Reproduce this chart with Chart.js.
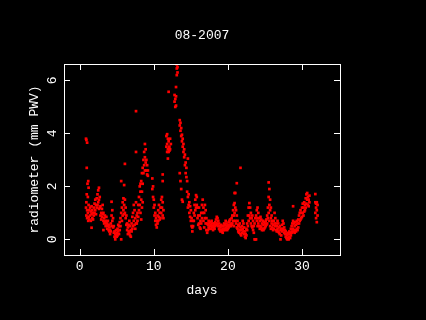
<!DOCTYPE html>
<html lang="en">
<head>
    <meta charset="UTF-8">
    <title>08-2007</title>
    <script src="https://cdn.jsdelivr.net/npm/chart.js"></script>
    <style>
        html, body { margin: 0; padding: 0; background: #000; }
        canvas { display: block; }
    </style>
</head>
<body>
    <canvas id="pwvChart" width="426" height="320"></canvas>

    <script>
        // [day, pwv] samples, one array per week
        const week1 = [
            [0.85,3.8],[0.85,1.2],[0.9,3.75],[0.9,0.9],[0.9,1.4],[0.95,2.7],[0.95,1.7],[1.0,3.65],[1.0,1.1],[1.0,0.8],
            [1.05,2.1],[1.1,1.0],[1.1,1.6],[1.15,2.2],[1.15,0.7],[1.2,1.3],[1.2,0.85],[1.2,1.95],[1.3,1.1],[1.3,0.75],
            [1.4,0.9],[1.4,1.2],[1.5,1.05],[1.5,0.7],[1.6,0.44],[1.6,0.95],[1.6,1.25],[1.7,0.8],[1.7,1.1],[1.8,1.0],
            [1.8,0.75],[1.9,1.2],[1.9,0.9],[2.0,1.35],[2.0,1.0],[2.1,1.5],[2.1,1.1],[2.2,1.3],[2.2,0.95],[2.3,1.55],
            [2.3,1.2],[2.4,1.7],[2.4,1.3],[2.5,1.85],[2.5,1.4],[2.6,1.95],[2.6,1.5],[2.6,1.15],[2.7,1.6],[2.7,1.2],
            [2.8,1.25],[2.8,0.9],[2.9,1.0],[2.9,0.75],[3.0,1.15],[3.0,0.85],[3.1,1.3],[3.1,0.95],[3.2,1.0],[3.2,0.35],
            [3.2,0.7],[3.3,0.8],[3.3,0.6],[3.4,0.9],[3.4,0.65],[3.5,0.7],[3.5,0.5],[3.6,0.85],[3.6,0.6],[3.7,0.6],
            [3.7,0.4],[3.8,0.5],[3.8,0.7],[3.9,0.55],[3.9,0.35],[4.0,0.45],[4.0,0.3],[4.1,0.35],[4.1,0.2],[4.2,0.6],
            [4.2,0.3],[4.3,0.9],[4.3,1.42],[4.3,0.5],[4.4,1.1],[4.4,0.7],[4.5,0.8],[4.5,0.45],[4.6,0.5],[4.6,0.25],
            [4.7,0.3],[4.7,0.1],[4.8,0.2],[4.8,0.0],[4.9,0.15],[4.9,0.35],[5.0,0.25],[5.0,0.1],[5.1,0.4],[5.1,0.15],
            [5.2,0.3],[5.2,0.55],[5.3,0.5],[5.3,0.2],[5.4,0.65],[5.4,0.35],[5.5,0.8],[5.5,0.5],[5.6,2.2],[5.6,1.0],
            [5.6,0.0],[5.7,1.2],[5.7,0.7],[5.8,1.4],[5.8,0.9],[5.9,1.55],[5.9,1.1],[6.0,2.05],[6.0,1.3],[6.0,0.95],
            [6.1,2.85],[6.1,1.5],[6.1,1.0],[6.2,1.2],[6.2,0.8],[6.3,0.9],[6.3,0.55],[6.4,0.6],[6.4,0.35],[6.5,0.45],
            [6.5,0.2],[6.6,0.55],[6.6,0.3],[6.7,0.7],[6.7,0.25],[6.8,0.5],[6.8,0.15],[6.9,0.35],[6.9,0.1],[7.0,0.6],
            [7.0,0.3],[7.1,0.85],[7.1,0.4],[7.2,1.0],[7.2,0.5],[7.3,1.3],[7.3,0.7],[7.4,1.1],[7.4,0.55],[7.5,0.8],
            [7.5,0.4],[7.6,4.84],[7.6,3.3],[7.6,1.4],[7.6,0.6],[7.7,0.9],[7.7,0.6]
        ];
        const week2 = [
            [7.8,1.0],[7.8,0.7],[7.9,1.3],[7.9,0.85],[8.0,1.6],[8.0,1.1],[8.1,2.0],[8.1,1.3],[8.2,2.1],[8.2,1.8],
            [8.2,1.0],[8.3,2.2],[8.3,1.5],[8.3,0.75],[8.4,2.5],[8.4,1.8],[8.4,1.2],[8.5,2.7],[8.5,2.1],[8.5,1.4],
            [8.6,3.0],[8.6,2.5],[8.7,3.3],[8.7,2.8],[8.8,3.6],[8.8,3.1],[8.8,2.6],[8.9,3.4],[8.9,2.9],[9.0,3.0],
            [9.0,2.6],[9.1,2.8],[9.1,2.45],[9.2,2.6],[9.2,2.4],
            [9.8,2.3],[9.8,1.9],[9.9,2.0],[9.9,1.6],[10.0,1.5],[10.0,1.2],[10.1,1.3],[10.1,0.9],[10.2,1.0],[10.2,0.7],
            [10.3,0.8],[10.3,0.55],[10.4,0.7],[10.4,0.45],[10.5,0.9],[10.5,0.6],[10.6,1.1],[10.6,0.7],[10.7,1.3],[10.7,0.85],
            [10.8,1.0],[10.8,0.75],[10.9,1.2],[10.9,0.8],[11.0,1.5],[11.0,1.0],[11.1,1.6],[11.1,1.2],[11.2,2.45],[11.2,2.2],
            [11.2,1.4],[11.2,0.9],[11.3,1.1],[11.3,0.8],
            [11.7,3.9],[11.7,3.5],[11.8,3.97],[11.8,3.6],[11.8,3.3],[11.9,3.8],[11.9,3.4],[11.9,3.05],[12.0,5.57],[12.0,3.7],
            [12.0,3.3],[12.1,3.5],[12.1,3.35],[12.2,3.8],[12.2,3.4],[12.3,3.6],
            [12.8,5.45],[12.8,5.2],[12.9,5.3],[12.9,5.0],[13.0,5.05],[13.0,5.4],[13.0,5.75],[13.1,6.2],[13.1,6.6],[13.1,6.45],
            [13.2,6.3],[13.2,6.5],
            [13.5,4.5],[13.5,4.3],[13.5,2.5],[13.6,4.4],[13.6,4.1],[13.6,2.2],[13.7,4.2],[13.7,3.9],[13.7,1.9],[13.8,3.95],
            [13.8,3.7],[13.8,1.5],[13.9,3.8],[13.9,3.5],[13.9,1.42],[14.0,3.6],[14.0,3.3],[14.1,3.4],[14.1,3.1],[14.2,3.2],
            [14.2,2.8],[14.3,2.9],[14.3,2.5],[14.4,2.7],[14.4,2.35],[14.5,2.2],[14.5,1.8],[14.6,3.05],[14.6,1.6],[14.6,1.2],
            [14.7,1.7],[14.7,1.3],[14.8,1.4],[14.8,1.0],[14.9,1.25],[14.9,0.85],[15.0,1.1],[15.0,0.7],[15.1,0.8],[15.1,0.5],
            [15.2,0.45],[15.2,0.3],[15.3,0.7],[15.3,0.5],[15.4,1.0],[15.4,0.7],[15.5,1.3],[15.5,0.9],[15.6,1.5],[15.6,1.1],
            [15.7,1.67],[15.7,1.2],[15.8,1.6],[15.8,1.3],[15.9,1.2],[15.9,0.8],[16.0,0.9],[16.0,0.55]
        ];
        const week3 = [
            [16.1,1.2],[16.1,0.6],[16.2,0.9],[16.2,0.45],[16.3,0.7],[16.3,0.4],[16.4,1.0],[16.4,0.6],[16.5,1.3],[16.5,0.8],
            [16.6,1.5],[16.6,1.0],[16.7,1.2],[16.7,0.7],[16.8,1.0],[16.8,0.45],[16.9,1.3],[16.9,0.8],[17.0,1.1],[17.0,0.6],
            [17.1,0.8],[17.1,0.35],[17.2,0.6],[17.2,0.25],[17.3,0.55],[17.3,0.35],[17.4,0.7],[17.4,0.45],[17.5,0.6],[17.5,0.4],
            [17.6,0.65],[17.6,0.5],[17.7,0.55],[17.7,0.4],[17.8,0.7],[17.8,0.5],[17.9,0.6],[17.9,0.45],[18.0,0.5],[18.0,0.35],
            [18.1,0.6],[18.1,0.45],[18.2,0.55],[18.2,0.4],[18.3,0.65],[18.3,0.5],[18.4,0.75],[18.4,0.55],[18.5,0.85],[18.5,0.6],
            [18.6,0.8],[18.6,0.55],[18.7,0.7],[18.7,0.5],[18.8,0.6],[18.8,0.4],[18.9,0.5],[18.9,0.35],[19.0,0.45],[19.0,0.3],
            [19.1,0.55],[19.1,0.35],[19.2,0.5],[19.2,0.3],[19.3,0.4],[19.3,0.25],[19.4,0.5],[19.4,0.35],[19.5,0.6],[19.5,0.4],
            [19.6,0.55],[19.6,0.35],[19.7,0.7],[19.7,0.45],[19.8,0.6],[19.8,0.4],[19.9,0.5],[19.9,0.35],[20.0,0.55],[20.0,0.4],
            [20.1,0.65],[20.1,0.45],[20.2,0.7],[20.2,0.5],[20.3,0.75],[20.3,0.55],[20.4,0.6],[20.4,0.5],[20.5,0.8],[20.5,0.55],
            [20.6,0.9],[20.6,0.6],[20.7,1.1],[20.7,0.7],[20.8,1.3],[20.8,0.9],[20.8,0.5],[20.9,1.37],[20.9,1.75],[20.9,1.0],
            [21.0,1.75],[21.0,1.2],[21.0,0.7],[21.1,1.1],[21.1,0.6],[21.2,2.12],[21.2,0.9],[21.2,0.45],[21.3,0.7],[21.3,0.4],
            [21.4,0.55],[21.4,0.3],[21.5,0.5],[21.5,0.25],[21.6,0.6],[21.6,0.35],[21.7,2.7],[21.7,0.45],[21.7,0.2],[21.8,0.35],
            [21.8,0.15],[21.9,0.5],[21.9,0.25],[22.0,0.7],[22.0,0.4],[22.1,0.6],[22.1,0.3],[22.2,0.45],[22.2,0.2],[22.3,0.3],
            [22.3,0.1],[22.4,0.2],[22.4,0.05],[22.5,0.4],[22.5,0.15],[22.6,0.6],[22.6,0.35],[22.7,0.9],[22.7,0.5],[22.8,1.2],
            [22.8,0.7],[22.9,1.37],[22.9,0.9],[23.0,1.2],[23.0,0.8],[23.1,1.0],[23.1,0.6],[23.2,0.8],[23.2,0.5],[23.3,0.9],
            [23.3,0.45],[23.4,0.7],[23.4,0.35],[23.5,0.25],[23.5,0.5],[23.6,0.0],[23.6,0.6],[23.7,0.0],[23.7,0.8],[23.8,0.0],
            [23.8,0.9],[23.9,1.1],[23.9,0.7],[24.0,1.2],[24.0,0.8],[24.0,0.5]
        ];
        const week4 = [
            [24.1,1.0],[24.1,0.6],[24.2,0.8],[24.2,0.5],[24.3,0.7],[24.3,0.4],[24.4,0.85],[24.4,0.5],[24.5,0.75],[24.5,0.45],
            [24.6,0.6],[24.6,0.35],[24.7,0.7],[24.7,0.4],[24.8,0.55],[24.8,0.35],[24.9,0.65],[24.9,0.4],[25.0,0.6],[25.0,0.45],
            [25.1,0.7],[25.1,0.5],[25.2,0.75],[25.2,0.55],[25.3,0.9],[25.3,0.6],[25.4,1.2],[25.4,0.8],[25.5,2.15],[25.5,1.6],
            [25.5,1.0],[25.6,1.9],[25.6,1.3],[25.6,0.7],[25.7,1.5],[25.7,1.1],[25.7,0.5],[25.8,1.2],[25.8,0.8],[25.8,0.4],
            [25.9,0.9],[25.9,0.6],[26.0,0.7],[26.0,0.45],[26.1,0.55],[26.1,0.35],[26.2,0.7],[26.2,0.4],[26.3,1.0],[26.3,0.6],
            [26.4,0.8],[26.4,0.5],[26.5,0.6],[26.5,0.35],[26.6,0.5],[26.6,0.3],[26.7,0.7],[26.7,0.4],[26.8,0.6],[26.8,0.3],
            [26.9,0.45],[26.9,0.25],[27.0,0.5],[27.0,0.2],[27.1,0.0],[27.1,0.35],[27.2,0.4],[27.2,0.15],[27.3,0.55],[27.3,0.3],
            [27.4,0.7],[27.4,0.4],[27.5,0.6],[27.5,0.35],[27.6,0.45],[27.6,0.25],[27.7,0.35],[27.7,0.2],[27.8,0.3],[27.8,0.1],
            [27.9,0.2],[27.9,0.05],[28.0,0.15],[28.0,0.0],[28.1,0.25],[28.1,0.05],[28.2,0.2],[28.2,0.0],[28.3,0.3],[28.3,0.1],
            [28.4,0.25],[28.4,0.05],[28.5,0.4],[28.5,0.15],[28.6,0.5],[28.6,0.25],[28.7,0.6],[28.7,0.3],[28.8,1.25],[28.8,0.7],
            [28.8,0.4],[28.9,0.6],[28.9,0.3],[29.0,0.5],[29.0,0.25],[29.1,0.65],[29.1,0.35],[29.2,0.55],[29.2,0.3],[29.3,0.7],
            [29.3,0.4],[29.4,0.6],[29.4,0.35],[29.5,0.75],[29.5,0.45],[29.6,0.9],[29.6,0.6],[29.7,1.0],[29.7,0.7],[29.8,1.1],
            [29.8,0.75],[29.9,1.0],[29.9,0.8],[30.0,1.2],[30.0,0.85],[30.1,1.35],[30.1,1.0],[30.2,1.2],[30.2,0.9],[30.3,1.4],
            [30.3,1.05],[30.4,1.3],[30.4,1.1],[30.5,1.55],[30.5,1.2],[30.6,1.7],[30.6,1.35],[30.7,1.75],[30.7,1.5],[30.8,1.6],
            [30.8,1.3],[30.9,1.5],[30.9,1.25],[31.0,1.65],[31.0,1.4],
            [31.8,1.71],[31.8,1.4],[31.8,1.0],[31.9,1.35],[31.9,1.2],[31.9,0.8],[32.0,1.4],[32.0,1.1],[32.0,0.65],[32.1,1.3],
            [32.1,0.9]
        ];

        const xTicks = [0, 10, 20, 30];
        const yTicks = [0, 2, 4, 6];

        const textFont = { family: 'Liberation Mono', size: 13, weight: 'normal' };

        // white box with inward ticks on all four sides
        const boxPlugin = {
            id: 'box',
            afterDraw(chart) {
                const { ctx, chartArea: a, scales: { x, y } } = chart;
                const tick = 6;
                ctx.save();
                ctx.strokeStyle = '#fff';
                ctx.lineWidth = 1;
                ctx.strokeRect(a.left + 0.5, a.top + 0.5, a.right - a.left, a.bottom - a.top);
                ctx.beginPath();
                xTicks.forEach(v => {
                    const px = Math.round(x.getPixelForValue(v)) + 0.5;
                    ctx.moveTo(px, a.top); ctx.lineTo(px, a.top + tick);
                    ctx.moveTo(px, a.bottom); ctx.lineTo(px, a.bottom - tick);
                });
                yTicks.forEach(v => {
                    const py = Math.round(y.getPixelForValue(v)) + 0.5;
                    ctx.moveTo(a.left, py); ctx.lineTo(a.left + tick, py);
                    ctx.moveTo(a.right, py); ctx.lineTo(a.right - tick, py);
                });
                ctx.stroke();
                ctx.restore();
            }
        };

        const points = [...week1, ...week2, ...week3, ...week4].map(p => ({ x: p[0], y: p[1] }));

        new Chart(document.getElementById('pwvChart'), {
            type: 'scatter',
            data: {
                datasets: [{
                    data: points,
                    backgroundColor: '#ff0000',
                    pointStyle: 'rect',
                    pointRadius: 1.9,
                    borderWidth: 0
                }]
            },
            options: {
                responsive: false,
                animation: false,
                layout: { padding: { left: 0, right: 86, top: 0, bottom: 0 } },
                plugins: {
                    legend: { display: false },
                    tooltip: { enabled: false },
                    title: {
                        display: true,
                        text: '08-2007',
                        color: '#fff',
                        font: textFont,
                        fullSize: false,
                        padding: { top: 28, bottom: 20.4 }
                    }
                },
                scales: {
                    x: {
                        type: 'linear',
                        min: -2.12,
                        max: 35.13,
                        grid: { display: false, drawTicks: false },
                        border: { display: false },
                        afterBuildTicks: s => { s.ticks = xTicks.map(v => ({ value: v })); },
                        afterFit: s => { s.height = 65; },
                        ticks: { color: '#fff', font: textFont, padding: 4, maxRotation: 0 },
                        title: {
                            display: true,
                            text: 'days',
                            color: '#fff',
                            font: textFont,
                            padding: { top: 0, bottom: 21.2 }
                        }
                    },
                    y: {
                        type: 'linear',
                        min: -0.59,
                        max: 6.62,
                        grid: { display: false, drawTicks: false },
                        border: { display: false },
                        afterBuildTicks: s => { s.ticks = yTicks.map(v => ({ value: v })); },
                        afterFit: s => { s.width = 64; },
                        ticks: { color: '#fff', font: textFont, padding: 8, minRotation: 90, maxRotation: 90, crossAlign: 'center' },
                        title: {
                            display: true,
                            text: 'radiometer (mm PWV)',
                            color: '#fff',
                            font: textFont,
                            padding: { top: 27, bottom: 0 }
                        }
                    }
                }
            },
            plugins: [boxPlugin]
        });
    </script>
</body>
</html>
